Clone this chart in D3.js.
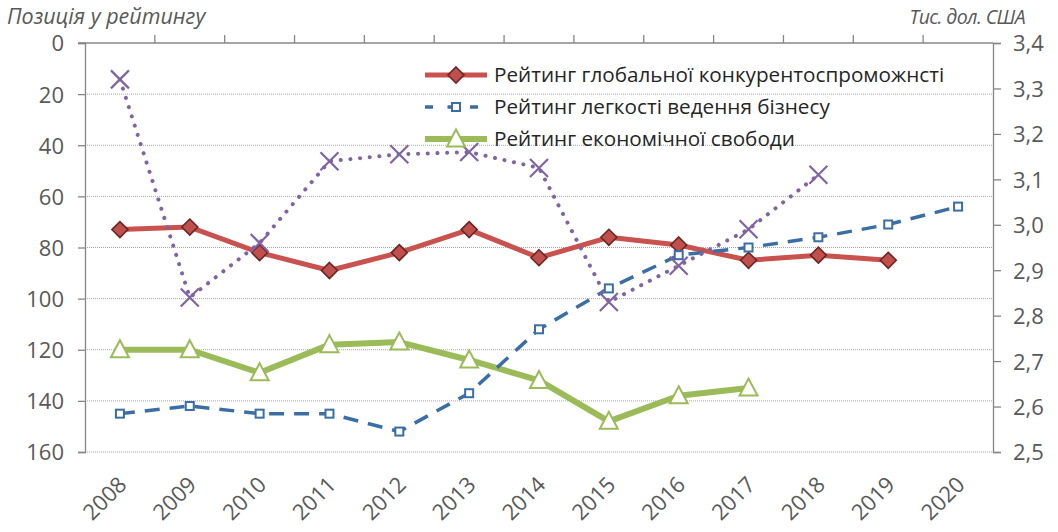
<!DOCTYPE html>
<html><head><meta charset="utf-8">
<script src="https://cdn.jsdelivr.net/npm/d3@7"></script>
<style>body{margin:0;background:#fff} svg{display:block}</style>
</head><body><svg id="c" width="1058" height="532"></svg>
<script>
const years = ["2008","2009","2010","2011","2012","2013","2014","2015","2016","2017","2018","2019","2020"];
const leftTicks = [0,20,40,60,80,100,120,140,160];
const rightTicks = [2.5,2.6,2.7,2.8,2.9,3.0,3.1,3.2,3.3,3.4];
const gciRank = [73,72,82,89,82,73,84,76,79,85,83,85];
const doingBusinessRank = [145,142,145,145,152,137,112,96,83,80,76,71,64];
const econFreedomRank = [120,120,129,118,117,124,132,148,138,135];
const gdpPerCapita = [3.32,2.84,2.96,3.14,3.155,3.16,3.125,2.83,2.91,2.99,3.11];
const seriesNames = ["Рейтинг глобальної конкурентоспроможнсті","Рейтинг легкості ведення бізнесу","Рейтинг економічної свободи"];
const leftTitle = "Позиція у рейтингу";
const rightTitle = "Тис. дол. США";

const svg = d3.select("#c");
const FONT = "'Open Sans', 'Noto Sans', sans-serif";
const AX = "#868686", TXT = "#595959";
const L = 85, R = 993, T = 43, B = 452;

const x = d3.scaleBand().domain(years).range([L, R]).padding(0);
const cx = d => x(d) + x.bandwidth() / 2;
const yL = d3.scaleLinear().domain([0, 160]).range([T, B]);
const yR = d3.scaleLinear().domain([2.5, 3.4]).range([B, T]);

svg.append("rect").attr("width", 1058).attr("height", 532).attr("fill", "#fff");

// gridlines
svg.append("g").selectAll("line").data(leftTicks.filter(v => v > 0)).join("line")
  .attr("x1", L).attr("x2", R).attr("y1", d => yL(d)).attr("y2", d => yL(d))
  .attr("stroke", "#a6a6a6").attr("stroke-width", 1).attr("stroke-dasharray", "1,1");

// left axis
const gL = svg.append("g").attr("transform", `translate(${L},0)`)
  .call(d3.axisLeft(yL).tickValues(leftTicks).tickSize(7).tickPadding(14));
gL.select(".domain").attr("stroke", AX).attr("stroke-width", 1.3);
gL.selectAll(".tick line").attr("stroke", AX).attr("stroke-width", 1.3);
gL.selectAll("text").attr("font-family", FONT).attr("font-size", 22).attr("fill", TXT).attr("dy", "0.36em");

// right axis
const gR = svg.append("g").attr("transform", `translate(${R},0)`)
  .call(d3.axisRight(yR).tickValues(rightTicks).tickSize(8).tickPadding(12)
    .tickFormat(d => d3.format(".1f")(d).replace(".", ",")));
gR.select(".domain").attr("stroke", AX).attr("stroke-width", 1.3);
gR.selectAll(".tick line").attr("stroke", AX).attr("stroke-width", 1.3);
gR.selectAll("text").attr("font-family", FONT).attr("font-size", 22).attr("fill", TXT).attr("dy", "0.36em");

// top category axis
const gT = svg.append("g").attr("transform", `translate(0,${T})`)
  .call(d3.axisTop(x).tickSize(0).tickFormat(""));
gT.select(".domain").remove();
svg.append("line").attr("x1", L - 7).attr("x2", R).attr("y1", T).attr("y2", T)
  .attr("stroke", AX).attr("stroke-width", 1.3);
svg.append("g").selectAll("line").data(years.slice(1)).join("line")
  .attr("x1", d => x(d)).attr("x2", d => x(d)).attr("y1", T - 8).attr("y2", T)
  .attr("stroke", AX).attr("stroke-width", 1.3);

// x labels bottom
svg.append("g").selectAll("text").data(years).join("text")
  .attr("transform", d => `translate(${cx(d) + 8},486) rotate(-45)`)
  .attr("text-anchor", "end").attr("font-family", FONT).attr("font-size", 22).attr("fill", TXT)
  .text(d => d);

// titles
svg.append("text").attr("x", 7).attr("y", 24).attr("font-family", FONT).attr("font-style", "italic")
  .attr("font-size", 21.5).attr("fill", TXT).text(leftTitle);
svg.append("text").attr("x", 1025).attr("y", 24).attr("text-anchor", "end").attr("font-family", FONT)
  .attr("font-style", "italic").attr("font-size", 19.5).attr("letter-spacing", -0.6).attr("fill", TXT).text(rightTitle);

const lineL = d3.line().x((d, i) => cx(years[i])).y(d => yL(d));
const lineR = d3.line().x((d, i) => cx(years[i])).y(d => yR(d));

// series styles
const RED = "#c9524e", REDM = "#c0504d", REDS = "#6b2523";
const BLUE = "#3a6ea5", GREEN = "#9bbb59", PURPLE = "#8064a2";

// green
svg.append("path").attr("d", lineL(econFreedomRank)).attr("fill", "none")
  .attr("stroke", GREEN).attr("stroke-width", 6).attr("stroke-linejoin", "round");
// red
svg.append("path").attr("d", lineL(gciRank)).attr("fill", "none")
  .attr("stroke", RED).attr("stroke-width", 5).attr("stroke-linejoin", "round");
// blue dashed
svg.append("path").attr("d", lineL(doingBusinessRank)).attr("fill", "none")
  .attr("stroke", BLUE).attr("stroke-width", 3.5).attr("stroke-dasharray", "15,10");
// purple dotted
svg.append("path").attr("d", lineR(gdpPerCapita)).attr("fill", "none")
  .attr("stroke", PURPLE).attr("stroke-width", 4).attr("stroke-linecap", "round")
  .attr("stroke-dasharray", "0.1,9.6");

const tri = "M0,-9.5L9,7.5L-9,7.5Z";
const dia = "M0,-8L8,0L0,8L-8,0Z";
svg.append("g").selectAll("path").data(econFreedomRank).join("path")
  .attr("transform", (d, i) => `translate(${cx(years[i])},${yL(d)})`).attr("d", tri)
  .attr("fill", "#fff").attr("stroke", GREEN).attr("stroke-width", 2);
svg.append("g").selectAll("path").data(gciRank).join("path")
  .attr("transform", (d, i) => `translate(${cx(years[i])},${yL(d)})`).attr("d", dia)
  .attr("fill", REDM).attr("stroke", REDS).attr("stroke-width", 1.6);
svg.append("g").selectAll("rect").data(doingBusinessRank).join("rect")
  .attr("x", (d, i) => cx(years[i]) - 4).attr("y", d => yL(d) - 4).attr("width", 8).attr("height", 8)
  .attr("fill", "#fff").attr("stroke", BLUE).attr("stroke-width", 2);
svg.append("g").selectAll("path").data(gdpPerCapita).join("path")
  .attr("transform", (d, i) => `translate(${cx(years[i])},${yR(d)})`).attr("d", "M-9,-9L9,9M-9,9L9,-9")
  .attr("fill", "none").attr("stroke", PURPLE).attr("stroke-width", 2.2);

// legend
const lg = svg.append("g");
const ly = [75, 107, 139];
lg.append("line").attr("x1", 425).attr("x2", 487).attr("y1", ly[0]).attr("y2", ly[0]).attr("stroke", RED).attr("stroke-width", 5);
lg.append("path").attr("transform", `translate(456,${ly[0]})`).attr("d", dia).attr("fill", REDM).attr("stroke", REDS).attr("stroke-width", 1.6);
lg.append("line").attr("x1", 425).attr("x2", 487).attr("y1", ly[1]).attr("y2", ly[1]).attr("stroke", BLUE).attr("stroke-width", 3.5).attr("stroke-dasharray", "8,14.5");
lg.append("rect").attr("x", 452).attr("y", ly[1] - 4).attr("width", 8).attr("height", 8).attr("fill", "#fff").attr("stroke", BLUE).attr("stroke-width", 2);
lg.append("line").attr("x1", 425).attr("x2", 487).attr("y1", ly[2]).attr("y2", ly[2]).attr("stroke", GREEN).attr("stroke-width", 6);
lg.append("path").attr("transform", `translate(456,${ly[2]})`).attr("d", tri).attr("fill", "#fff").attr("stroke", GREEN).attr("stroke-width", 2);
lg.selectAll("text").data(seriesNames).join("text")
  .attr("x", 494).attr("y", (d, i) => ly[i]).attr("dy", "0.35em")
  .attr("font-family", FONT).attr("font-size", 20.7).attr("fill", "#262626").text(d => d);
</script></body></html>
